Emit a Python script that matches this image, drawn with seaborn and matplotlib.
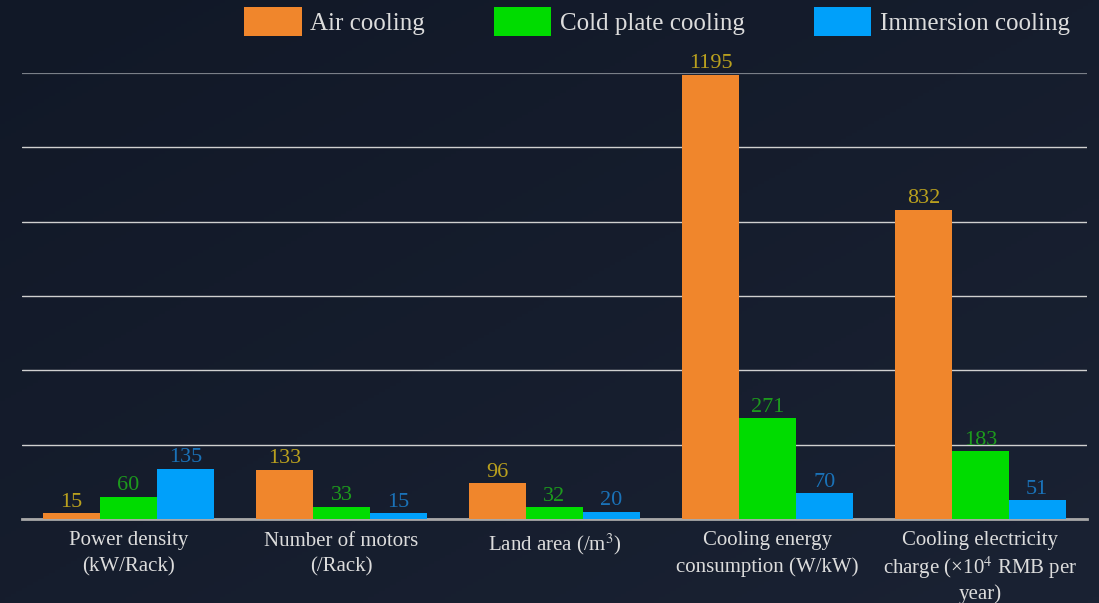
import numpy as np
import pandas as pd
import matplotlib
matplotlib.use("Agg")
import matplotlib.pyplot as plt
import seaborn as sns

categories = [
    "Power density\n(kW/Rack)",
    "Number of motors\n(/Rack)",
    "Land area (/m$^{3}$)",
    "Cooling energy\nconsumption (W/kW)",
    "Cooling electricity\ncharge (\u00d710$^{4}$ RMB per\nyear)",
]
series_names = ["Air cooling", "Cold plate cooling", "Immersion cooling"]
air_cooling = [15, 133, 96, 1195, 832]
cold_plate_cooling = [60, 33, 32, 271, 183]
immersion_cooling = [135, 15, 20, 70, 51]

bar_colors = ["#f0862c", "#00dc00", "#00a0fa"]
label_colors = ["#b9a01e", "#1d9a1d", "#1a72b8"]
bg_color = "#131a2a"
text_color = "#dcdcdc"

df = pd.DataFrame({
    "category": categories * 3,
    "series": np.repeat(series_names, len(categories)),
    "value": air_cooling + cold_plate_cooling + immersion_cooling,
})

sns.set_theme(style="white")
plt.rcParams["font.family"] = ["Liberation Serif", "DejaVu Serif"]
plt.rcParams["mathtext.fontset"] = "stix"

fig = plt.figure(figsize=(10.99, 6.03), dpi=100, facecolor=bg_color)

# subtle diagonal background shading
bg_ax = fig.add_axes([0, 0, 1, 1], zorder=-10)
gy, gx = np.mgrid[0:1:200j, 0:1:200j]
shade = (gx * 0.5 + gy * 0.5)
bg_ax.imshow(shade, cmap=matplotlib.colors.LinearSegmentedColormap.from_list(
    "bg", ["#111827", "#1a2233"]), aspect="auto", origin="upper", extent=[0, 1, 0, 1])
bg_ax.axis("off")

ax = fig.add_axes([22 / 1099, 1 - 519 / 603, (1087 - 22) / 1099, (519 - 73) / 603])
ax.set_facecolor("none")

sns.barplot(data=df, x="category", y="value", hue="series", order=categories,
            hue_order=series_names, palette=bar_colors, saturation=1,
            width=0.8, gap=0, ax=ax, linewidth=0, zorder=3)

for container, col in zip(ax.containers, label_colors):
    ax.bar_label(container, fmt="%d", color=col, fontsize=16, padding=1)

ax.set_ylim(0, 1200)
ax.set_xlim(-0.5, len(categories) - 0.5)
ax.set_yticks(np.arange(0, 1201, 200))
ax.set_yticklabels([])
ax.tick_params(axis="y", length=0)
ax.tick_params(axis="x", length=0, colors=text_color, labelsize=15, pad=9)
for lbl in ax.get_xticklabels():
    # the superscript line is taller, so tighten the three-line label
    lbl.set_linespacing(1.2 if lbl.get_text().count("\n") > 1 else 1.45)
ax.grid(axis="y", color="#d0d0d0", linewidth=1, zorder=0)
ax.set_axisbelow(True)
gl = ax.get_ygridlines()
gl[-1].set_color("#7a7f88")
gl[-1].set_linewidth(1.6)
for side in ["top", "left", "right"]:
    ax.spines[side].set_visible(False)
ax.spines["bottom"].set_color("#a8a8a8")
ax.spines["bottom"].set_linewidth(2)
ax.set_xlabel("")
ax.set_ylabel("")

handles, labels = ax.get_legend_handles_labels()
ax.legend_.remove()
fig.legend(handles, labels, loc="upper right", bbox_to_anchor=(1080 / 1099, 1.005),
           ncol=3, frameon=False, fontsize=18, labelcolor=text_color,
           handlelength=2.3, handleheight=1.4, handletextpad=0.35,
           columnspacing=2.75, borderaxespad=0.0)

fig.savefig("out.png", dpi=100, facecolor=bg_color)
